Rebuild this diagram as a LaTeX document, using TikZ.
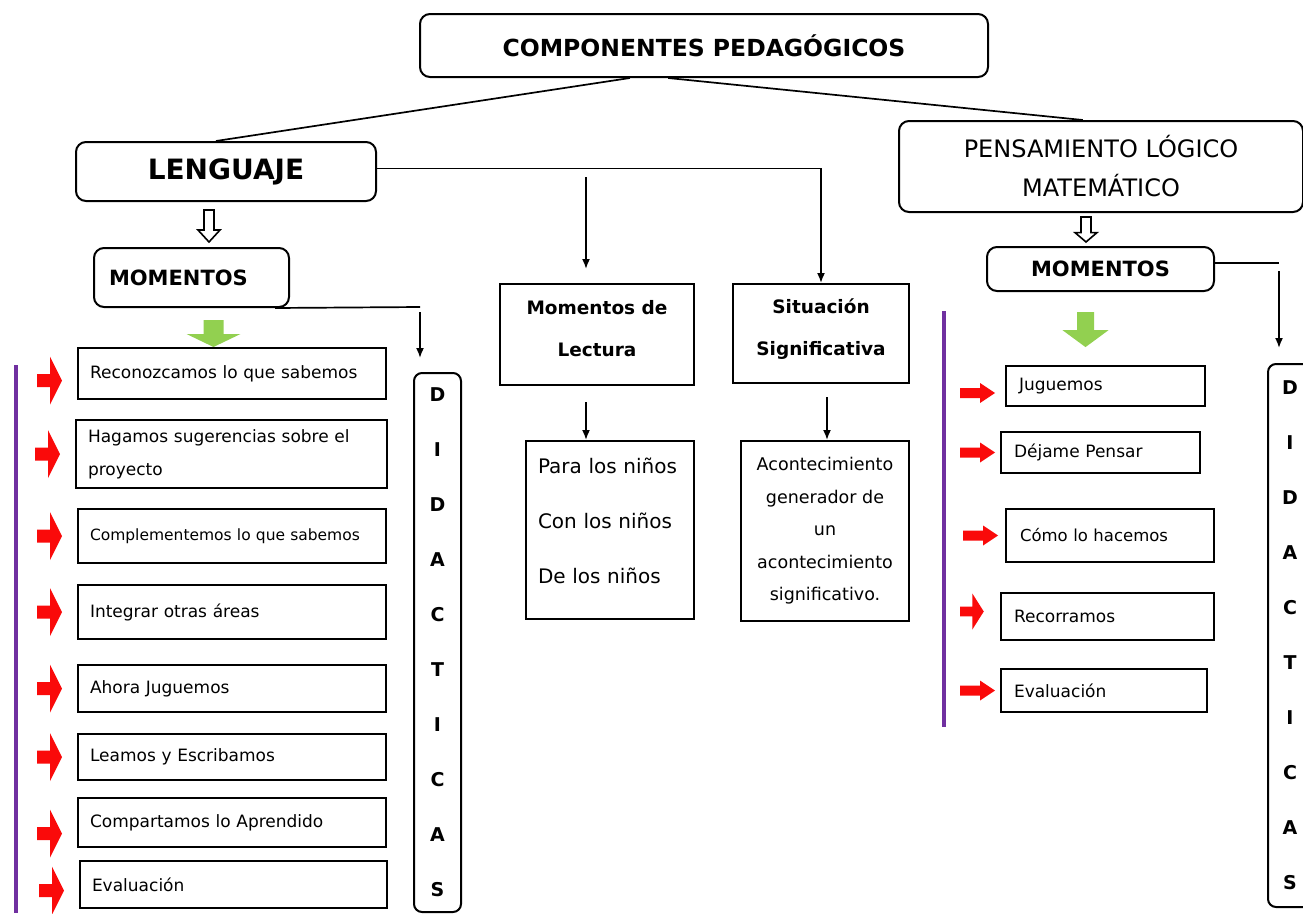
\documentclass[tikz,border=0pt]{standalone}
\usepackage{fontspec}
\setmainfont{DejaVu Sans}
\usetikzlibrary{calc,arrows.meta}
\definecolor{rojo}{RGB}{250,10,10}
\definecolor{verde}{RGB}{146,208,80}
\definecolor{morado}{RGB}{112,48,160}
\newcommand{\tam}[2]{\fontsize{#1}{#2}\selectfont}

\begin{document}
\begin{tikzpicture}[
  x=1pt, y=-1pt,
  every node/.style={inner sep=0pt, anchor=north west},
  caja/.style={draw, line width=2pt, rounded corners=10pt},
  cuadro/.style={draw, line width=2pt},
  lista/.style={cuadro, align=left, inner xsep=12pt, text width=284pt, font=\tam{17}{33}},
  letras/.style={caja, rounded corners=8pt, align=center, font=\bfseries\tam{19}{55}},
  linea/.style={line width=1.7pt},
  flecha/.style={linea, -{Latex[length=10pt,width=8pt]}}
]
\tikzset{
  flechaizq/.pic={\fill[rojo] (0,-6.5) -- (13,-6.5) -- (13,-24) -- (25,0) -- (13,24) -- (13,6.5) -- (0,6.5) -- cycle;},
  flechader/.pic={\fill[rojo] (0,-5) -- (20,-5) -- (20,-10) -- (35,0) -- (20,10) -- (20,5) -- (0,5) -- cycle;},
  flechahueca/.pic={\draw[line width=1.6pt, fill=white] (-5,0) -- (5,0) -- (5,20) -- (11,20) -- (0,32) -- (-11,20) -- (-5,20) -- cycle;},
  flechaverde/.pic={\fill[verde] (-10,0) -- (10,0) -- (10,14) -- (27,14) -- (0,27) -- (-27,14) -- (-10,14) -- cycle;}
}
\path[use as bounding box, fill=white] (0,0) rectangle (1303,913);

% cabecera
\node[caja, minimum width=568pt, minimum height=63pt, font=\bfseries\tam{23.5}{28}] (titulo) at (419,13) {COMPONENTES PEDAGÓGICOS};
\node[caja, minimum width=300pt, minimum height=59pt, font=\bfseries\tam{28}{32}] (lenguaje) at (75,141) {LENGUAJE};
\node[caja, minimum width=404pt, minimum height=91pt, align=center, font=\tam{24}{39}] (pensamiento) at (898,120) {PENSAMIENTO LÓGICO\\MATEMÁTICO};

\coordinate (t1) at ($(titulo.south west)!0.37!(titulo.south east)$);
\coordinate (t2) at ($(titulo.south west)!0.437!(titulo.south east)$);
\draw[linea] (t1) -- ($(lenguaje.north west)!0.467!(lenguaje.north east)$);
\draw[linea] (t2) -- ($(pensamiento.north west)!0.455!(pensamiento.north east)$);

% lenguaje
\node[caja, minimum height=59pt, text width=165pt, inner xsep=15pt, align=left, font=\bfseries\tam{21}{25}] (momizq) at (93,247) {MOMENTOS};
\pic at ($(lenguaje.south)+(-17,8)$) {flechahueca};
\pic at ($(momizq.south)+(22,12)$) {flechaverde};

\node[lista, minimum height=51pt] (l1) at (77,347) {Reconozcamos lo que sabemos};
\node[lista, minimum height=68pt, text width=287pt] (l2) at (75,419) {Hagamos sugerencias sobre el\\proyecto};
\node[lista, minimum height=54pt, font=\tam{15.5}{20}] (l3) at (77,508) {Complementemos lo que sabemos};
\node[lista, minimum height=54pt] (l4) at (77,584) {Integrar otras áreas};
\node[lista, minimum height=47pt] (l5) at (77,664) {Ahora Juguemos};
\node[lista, minimum height=46pt] (l6) at (77,733) {Leamos y Escribamos};
\node[lista, minimum height=49pt] (l7) at (77,797) {Compartamos lo Aprendido};
\node[lista, minimum height=47pt, text width=283pt] (l8) at (79,860) {Evaluación};

\draw[morado, line width=4pt] (16,365) -- (16,913);
\pic at ([xshift=-40pt, yshift=-7pt]l1.west) {flechaizq};
\pic at ([xshift=-40pt]l2.west) {flechaizq};
\pic at ([xshift=-40pt]l3.west) {flechaizq};
\pic at ([xshift=-40pt]l4.west) {flechaizq};
\pic at ([xshift=-40pt]l5.west) {flechaizq};
\pic at ([xshift=-40pt]l6.west) {flechaizq};
\pic at ([xshift=-40pt, yshift=-11pt]l7.west) {flechaizq};
\pic at ([xshift=-40pt, yshift=-6pt]l8.west) {flechaizq};

\node[letras, minimum width=47pt, minimum height=539pt] (didizq) at (413,372) {D\\I\\D\\A\\C\\T\\I\\C\\A\\S};
\coordinate (m1) at ($(momizq.south east)+(-15,0)$);
\coordinate (m2) at ($(didizq.north west)+(7,-65)$);
\draw[linea] (m1) -- (m2);
\draw[flecha, shorten <=5pt, shorten >=14pt] (m2) -- (m2 |- didizq.north);

% centro
\node[cuadro, minimum width=194pt, minimum height=101pt, align=center, font=\bfseries\tam{18.5}{42}] (lectura) at (499,283) {Momentos de\\Lectura\\[-30pt]\mbox{}};
\node[cuadro, minimum width=176pt, minimum height=99pt, align=center, font=\bfseries\tam{18.5}{42}] (situacion) at (732,283) {Situación\\Significativa\\[-30pt]\mbox{}};
\node[cuadro, minimum height=178pt, text width=144pt, inner xsep=12pt, align=left, font=\tam{20}{55}] (para) at (525,440) {Para los niños\\Con los niños\\De los niños\\[-37pt]\mbox{}};
\node[cuadro, minimum width=168pt, minimum height=180pt, align=center, font=\tam{17.5}{32.5}] (acont) at (740,440) {Acontecimiento\\generador de\\un\\acontecimiento\\significativo.};

\draw[flecha] ([yshift=3pt]lenguaje.east) -| (situacion.north);
\coordinate (bajada) at (586,177);
\draw[flecha, shorten >=14pt] (bajada) -- (bajada |- lectura.north);
\draw[flecha, shorten <=16pt] (lectura.south -| bajada) -- (para.north -| bajada);
\draw[flecha, shorten <=13pt] ([xshift=6pt]situacion.south) -- ([xshift=6pt]situacion.south |- acont.north);

% pensamiento logico matematico
\node[caja, minimum width=227pt, minimum height=44pt, font=\bfseries\tam{21}{25}] (momder) at (986,246) {MOMENTOS};
\pic[yscale=0.78] at ($(pensamiento.south)+(-15,4)$) {flechahueca};
\pic[xscale=0.85, yscale=1.3] at ($(momder.south)+(-15,20)$) {flechaverde};

\node[lista, minimum height=40pt, text width=173pt, inner xsep=13pt] (r1) at (1005,365) {Juguemos};
\node[lista, minimum height=41pt, text width=173pt, inner xsep=13pt] (r2) at (1000,431) {Déjame Pensar};
\node[lista, minimum height=53pt, text width=180pt, inner xsep=14pt, font=\tam{16.5}{20}] (r3) at (1005,508) {Cómo lo hacemos};
\node[lista, minimum height=47pt, text width=187pt, inner xsep=13pt] (r4) at (1000,592) {Recorramos};
\node[lista, minimum height=43pt, text width=180pt, inner xsep=13pt] (r5) at (1000,668) {Evaluación};

\draw[morado, line width=4pt] (944,311) -- (944,727);
\pic at ([xshift=-45pt, yshift=-7pt]r1.west) {flechader};
\pic at ([xshift=-40pt]r2.west) {flechader};
\pic at ([xshift=-42pt]r3.west) {flechader};
\pic[xscale=0.95, yscale=0.75] at ([xshift=-40pt, yshift=5pt]r4.west) {flechaizq};
\pic at ([xshift=-40pt]r5.west) {flechader};

\node[letras, minimum width=44pt, minimum height=543pt] (didder) at (1267,363) {D\\I\\D\\A\\C\\T\\I\\C\\A\\S};
\draw[linea] ([yshift=6pt]momder.east) -- ++(64,0) coordinate (m3);
\draw[flecha, shorten <=8pt, shorten >=15pt] (m3) -- (m3 |- didder.north);
\end{tikzpicture}
\end{document}
